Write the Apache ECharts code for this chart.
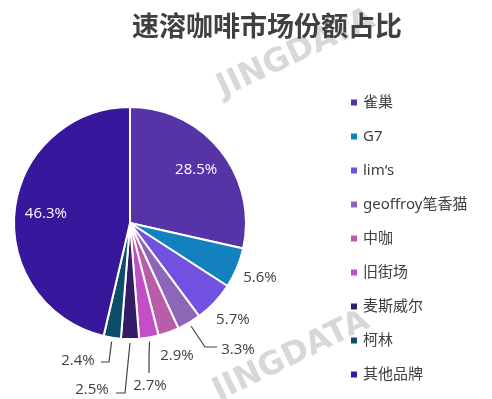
<!DOCTYPE html>
<html>
<head>
<meta charset="utf-8">
<script src="https://cdn.jsdelivr.net/npm/echarts@6/dist/echarts.min.js"></script>
<style>
html, body { margin: 0; padding: 0; background: #fff; }
#main { width: 492px; height: 399px; }
</style>
</head>
<body>
<div id="main"></div>
<script>
// data
var brands = ['雀巢', 'G7', 'lim‘s', 'geoffroy笔香猫', '中咖', '旧街场', '麦斯威尔', '柯林', '其他品牌'];
var shares = [28.5, 5.6, 5.7, 3.3, 2.9, 2.7, 2.5, 2.4, 46.3];
var colors = ['#5634a8', '#1481bf', '#7152e0', '#8d66b9', '#b95ca9', '#c24fc6', '#341b68', '#0c4d6b', '#37179c'];

var cx = 130, cy = 223, R = 116;
var insideLabels = [0, 8];
// crowded slices get an elbow leader line: label centre, bend, end
var leaders = {
    3: { at: [238, 350], bend: [205, 347], end: [217, 347] },
    5: { at: [150, 386], bend: [149, 357], end: [149, 373] },
    6: { at: [92, 390], bend: [125, 393], end: [116, 393] },
    7: { at: [78, 361], bend: [109, 362], end: [101, 362] }
};

var total = shares.reduce(function (s, v) { return s + v; }, 0);
function midAngle(i) {
    var c = 0;
    for (var j = 0; j < i; j++) c += shares[j];
    return (c + shares[i] / 2) / total * Math.PI * 2;
}
function polar(a, d) {
    return [cx + d * Math.sin(a), cy - d * Math.cos(a)];
}

var seriesData = brands.map(function (name, i) {
    var inside = insideLabels.indexOf(i) >= 0;
    return {
        name: name,
        value: shares[i],
        itemStyle: { color: colors[i] },
        label: {
            position: inside ? 'inside' : 'outside',
            color: inside ? '#ffffff' : '#404040'
        },
        labelLine: { show: !!leaders[i] }
    };
});

var chart = echarts.init(document.getElementById('main'));
chart.setOption({
    backgroundColor: '#ffffff',
    animation: false,
    title: {
        text: '速溶咖啡市场份额占比',
        left: 262,
        textAlign: 'center',
        top: 7,
        textStyle: {
            fontSize: 27,
            fontWeight: 'bold',
            color: '#404040',
            fontFamily: 'Noto Sans CJK SC'
        }
    },
    graphic: [
        {
            type: 'text', x: 226, y: 104, rotation: 25 * Math.PI / 180, z: 0,
            style: { text: 'JINGDATA', font: 'bold 32px "DejaVu Sans"', fill: 'rgba(190,190,190,0.6)', verticalAlign: 'bottom' }
        },
        {
            type: 'text', x: 222, y: 408, rotation: 26 * Math.PI / 180, z: 0,
            style: { text: 'JINGDATA', font: 'bold 32px "DejaVu Sans"', fill: 'rgba(190,190,190,0.6)', verticalAlign: 'bottom' }
        }
    ],
    legend: {
        orient: 'vertical',
        left: 344,
        top: 90,
        icon: 'rect',
        itemWidth: 8,
        itemHeight: 8,
        itemGap: 19,
        data: brands,
        textStyle: {
            fontSize: 15,
            lineHeight: 15,
            color: '#404040',
            fontFamily: '"Noto Sans", "Noto Sans CJK SC"'
        }
    },
    series: [{
        type: 'pie',
        center: [cx, cy],
        radius: R,
        startAngle: 90,
        clockwise: true,
        avoidLabelOverlap: false,
        itemStyle: { borderColor: '#ffffff', borderWidth: 2 },
        label: {
            show: true,
            fontSize: 15,
            fontFamily: 'Open Sans',
            formatter: function (p) { return p.value.toFixed(1) + '%'; }
        },
        labelLine: {
            lineStyle: { color: '#404040', width: 1.2 }
        },
        labelLayout: function (p) {
            var i = p.dataIndex;
            var a = midAngle(i);
            var lead = leaders[i];
            if (lead) {
                return {
                    x: lead.at[0], y: lead.at[1], align: 'center', verticalAlign: 'middle',
                    labelLinePoints: [polar(a, R + 4), lead.bend, lead.end]
                };
            }
            var d = insideLabels.indexOf(i) >= 0 ? R * 0.73 : R + 25;
            var pt = polar(a, d);
            return { x: pt[0], y: pt[1], align: 'center', verticalAlign: 'middle' };
        },
        data: seriesData
    }]
});
</script>
</body>
</html>
